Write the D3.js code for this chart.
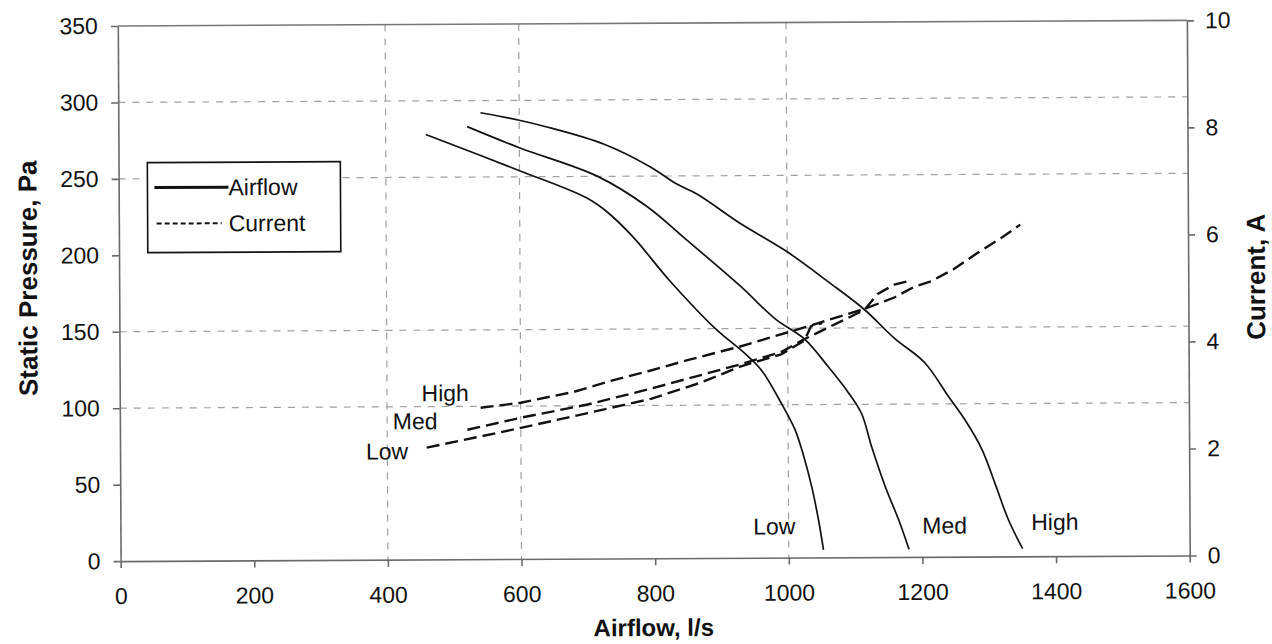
<!DOCTYPE html>
<html><head><meta charset="utf-8">
<script src="https://cdn.jsdelivr.net/npm/d3@7"></script>
<style>
body{margin:0;background:#fff}
svg{display:block;background:#fff}
text{font-family:"Liberation Sans",Arial,sans-serif;fill:#111}
</style>
</head><body>
<svg id="c" width="1272" height="644"></svg>
<script>
// ---- data ----
const xTicks = [0,200,400,600,800,1000,1200,1400,1600];
const leftTicks = [0,50,100,150,200,250,300,350];
const rightTicks = [0,2,4,6,8,10];
const gridX = [400,600,1000];
const gridY = [100,150,250,300];

// Airflow curves: [airflow l/s, static pressure Pa]
const airflowLow  = [[460,278],[600,254],[700,236],[730,227],[770,210],[823,182],[892,150],[935,134],[960,123],[990,101],[1010,84],[1022,68],[1035,46],[1045,24],[1052,5]];
const airflowMed  = [[522,283],[600,269],[717,250],[791,230],[850,208],[929,178],[982,156],[1025,143],[1060,125],[1090,108],[1110,94],[1125,72],[1145,46],[1165,24],[1180,5]];
const airflowHigh = [[542,292],[600,287],[637,283],[727,271],[796,256],[834,245],[866,238],[929,219],[1000,200],[1062,180],[1115,162],[1160,143],[1205,127],[1240,105],[1264,90],[1290,70],[1309,48],[1329,24],[1350,5]];

// Current curves: [airflow l/s, current A]
const currentLow  = [[459,2.09],[530,2.27],[600,2.45],[700,2.72],[795,2.98],[870,3.28],[930,3.58],[990,3.80],[1025,4.05],[1035,4.32],[1052,4.38]];
const currentMed  = [[520,2.42],[600,2.64],[700,2.88],[795,3.17],[870,3.42],[930,3.62],[990,3.84],[1025,4.08],[1115,4.62],[1135,4.92],[1160,5.09],[1180,5.15]];
const currentHigh = [[540,2.83],[600,2.92],[680,3.12],[735,3.32],[795,3.51],[850,3.70],[929,3.95],[1025,4.30],[1115,4.64],[1160,4.85],[1190,5.05],[1215,5.15],[1250,5.38],[1284,5.67],[1319,5.94],[1349,6.20]];

const speedLabels = ["High","Med","Low"];

// ---- drawing ----
const svg = d3.select('#c');
const g = svg.append('g').attr('transform','rotate(-0.3,653,290)');
const L=119.2, R=1188.3, T=23.2, B=558.3;
const x  = d3.scaleLinear().domain([0,1600]).range([L,R]);
const yP = d3.scaleLinear().domain([0,350]).range([B,T]);
const yA = d3.scaleLinear().domain([0,10]).range([B,T]);

const gridCol = '#a0a0a0';
g.selectAll('.gy').data(gridY).join('line')
  .attr('x1',L).attr('x2',R).attr('y1',d=>yP(d)).attr('y2',d=>yP(d))
  .attr('stroke',gridCol).attr('stroke-width',1.2).attr('stroke-dasharray','7,7');
g.selectAll('.gx').data(gridX).join('line')
  .attr('y1',T).attr('y2',B).attr('x1',d=>x(d)).attr('x2',d=>x(d))
  .attr('stroke',gridCol).attr('stroke-width',1.2).attr('stroke-dasharray','7,7');

// top border
g.append('line').attr('x1',L).attr('x2',R).attr('y1',T).attr('y2',T)
  .attr('stroke','#777').attr('stroke-width',1.6);

const axisCol = '#6a6a6a';
function styleAxis(sel){
  sel.selectAll('path,line').attr('stroke',axisCol).attr('stroke-width',1.6);
  sel.selectAll('text').style('font-size','23px').attr('fill','#111');
}
const ax = g.append('g').attr('transform',`translate(0,${B})`)
  .call(d3.axisBottom(x).tickValues(xTicks).tickSize(7).tickSizeOuter(0).tickFormat(d3.format('d')));
styleAxis(ax);
ax.selectAll('text').attr('y',43).attr('dy',0);

const ayl = g.append('g').attr('transform',`translate(${L},0)`)
  .call(d3.axisLeft(yP).tickValues(leftTicks).tickSize(7).tickSizeOuter(0).tickPadding(13));
styleAxis(ayl);

const ayr = g.append('g').attr('transform',`translate(${R},0)`)
  .call(d3.axisRight(yA).tickValues(rightTicks).tickSize(7).tickSizeOuter(0).tickPadding(11));
styleAxis(ayr);

// lines
const smooth = d3.line().x(d=>x(d[0])).y(d=>yP(d[1])).curve(d3.curveCatmullRom.alpha(0.5));
const lin = d3.line().x(d=>x(d[0])).y(d=>yA(d[1]));

[airflowLow,airflowMed,airflowHigh].forEach(s=>{
  g.append('path').attr('d',smooth(s)).attr('fill','none')
    .attr('stroke','#111').attr('stroke-width',1.7);
});
[currentLow,currentMed,currentHigh].forEach(s=>{
  g.append('path').attr('d',lin(s)).attr('fill','none')
    .attr('stroke','#111').attr('stroke-width',2.4).attr('stroke-dasharray','13,6');
});

// speed labels
const lab = (t,px,py)=>g.append('text').attr('x',px).attr('y',py).style('font-size','23px').text(t);
lab(speedLabels[0],421,400);
lab(speedLabels[1],392,428);
lab(speedLabels[2],365,458);
lab(speedLabels[2],752,535);
lab(speedLabels[1],921,535);
lab(speedLabels[0],1030,532);

// legend
const lg = g.append('g');
lg.append('rect').attr('x',148).attr('y',160).attr('width',193).attr('height',90)
  .attr('fill','#fff').attr('stroke','#111').attr('stroke-width',1.6);
lg.append('line').attr('x1',155).attr('x2',229).attr('y1',185).attr('y2',185)
  .attr('stroke','#111').attr('stroke-width',3);
lg.append('text').attr('x',229).attr('y',193).style('font-size','23px').text('Airflow');
lg.append('line').attr('x1',157).attr('x2',222).attr('y1',221).attr('y2',221)
  .attr('stroke','#111').attr('stroke-width',2).attr('stroke-dasharray','5,3');
lg.append('text').attr('x',229).attr('y',229).style('font-size','23px').text('Current');

// axis titles
g.append('text').attr('x',652).attr('y',636).attr('text-anchor','middle')
  .style('font-size','24px').style('font-weight','bold').text('Airflow, l/s');
g.append('text').attr('transform','translate(37,275) rotate(-90)').attr('text-anchor','middle')
  .style('font-size','26px').style('font-weight','bold').text('Static Pressure, Pa');
g.append('text').attr('transform','translate(1265,280) rotate(-90)').attr('text-anchor','middle')
  .style('font-size','26px').style('font-weight','bold').text('Current, A');
</script>
</body></html>
